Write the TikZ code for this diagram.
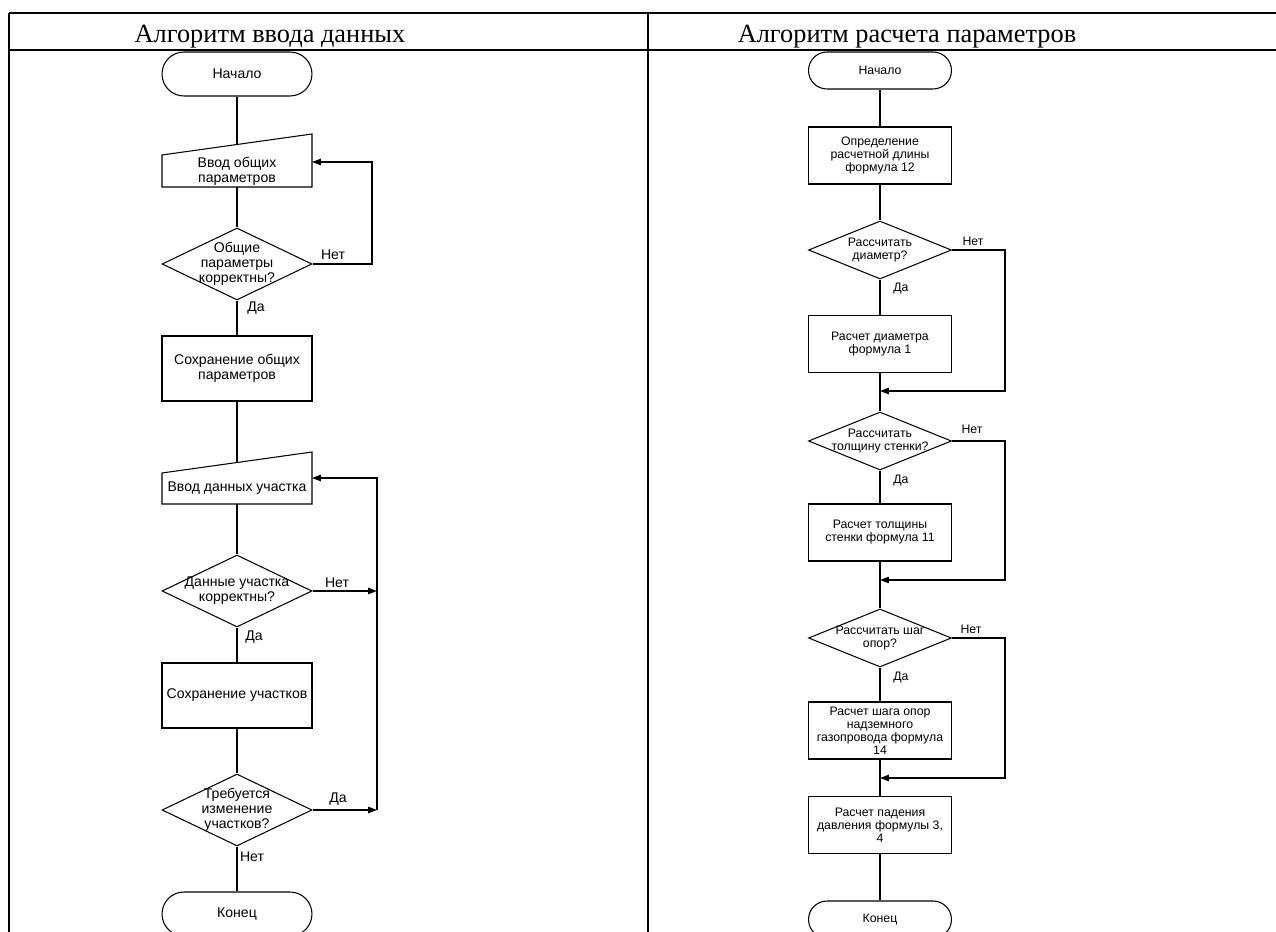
\documentclass[tikz,border=0pt]{standalone}
\usepackage{fontspec}
\setmainfont{Liberation Sans}
\newfontfamily\hdrfont{Liberation Serif}
\usetikzlibrary{shapes.geometric,shapes.misc,arrows.meta}
\begin{document}
\begin{tikzpicture}[x=0.02cm,y=-0.02cm,
  line width=0.6pt,
  ltxt/.style={font=\fontsize{8}{8.5}\selectfont, align=center, inner sep=0pt},
  rtxt/.style={font=\fontsize{7}{7.4}\selectfont, align=center, inner sep=0pt},
  lterm/.style={draw, rounded rectangle, minimum width=3cm, minimum height=0.88cm, ltxt},
  rterm/.style={draw, rounded rectangle, minimum width=2.86cm, minimum height=0.74cm, rtxt},
  lbox/.style={draw, rectangle, minimum width=3cm, minimum height=1.3cm, ltxt},
  rbox/.style={draw, rectangle, minimum width=2.86cm, minimum height=1.14cm, rtxt},
  ldec/.style={draw, diamond, minimum width=3cm, minimum height=1.44cm, inner sep=0pt},
  rdec/.style={draw, diamond, minimum width=2.86cm, minimum height=1.16cm, inner sep=0pt},
  arr/.style={-{Triangle[length=5pt,width=3.6pt]}},
  tbl/.style={line width=1.4pt},
  hdr/.style={font=\hdrfont\fontsize{15}{18}\selectfont, anchor=base, inner sep=0pt}
]
\useasboundingbox (0,0) rectangle (1276,932);

% table
\draw[tbl] (9,13) -- (1290,13);
\draw[tbl] (9,50) -- (1290,50);
\draw[tbl] (9,13) -- (9,945);
\draw[tbl] (648,13) -- (648,945);
\node[hdr] (h1) at (270,43) {Алгоритм ввода данных};
\node[hdr] (h2) at (907,43) {Алгоритм расчета параметров};

% ---------- left flowchart ----------
\node[lterm] (ls) at (237,74) {Начало};
\draw (162,187) -- (312,187) -- (312,134) -- (162,155) -- cycle;
\node[ltxt] (in1) at (237,171.5) {Ввод общих\\параметров};
\coordinate (in1top) at (237,144.5);
\coordinate (in1bot) at (237,187);
\coordinate (in1r) at (312,162);
\node[ldec, label={[ltxt]center:Общие\\параметры\\корректны?}] (ld1) at (237,264) {};
\node[lbox] (lb1) at (237,368.5) {Сохранение общих\\параметров};
\draw (162,504) -- (312,504) -- (312,452) -- (162,473) -- cycle;
\node[ltxt] (in2) at (237,488) {Ввод данных участка};
\coordinate (in2top) at (237,462.5);
\coordinate (in2bot) at (237,504);
\coordinate (in2r) at (312,478);
\node[ldec, label={[ltxt]center:Данные участка\\корректны?}] (ld2) at (237,591) {};
\node[lbox] (lb2) at (237,695.5) {Сохранение участков};
\node[ldec, label={[ltxt]center:Требуется\\изменение\\участков?}] (ld3) at (237,810) {};
\node[lterm] (le) at (237,914) {Конец};

\draw (ls.south) -- (in1top);
\draw (in1bot) -- (ld1.north);
\draw (ld1.south) -- (lb1.north);
\draw (lb1.south) -- (in2top);
\draw (in2bot) -- (ld2.north);
\draw (ld2.south) -- (lb2.north);
\draw (lb2.south) -- (ld3.north);
\draw (ld3.south) -- (le.north);

\coordinate (lr1a) at (372,264);
\coordinate (lr1b) at (372,162);
\draw[arr] (ld1.east) -- (lr1a) -- (lr1b) -- (in1r);
\coordinate (lv2) at (377,591);
\coordinate (lv3) at (377,810);
\coordinate (lvt) at (377,478);
\draw[arr] (ld2.east) -- (lv2);
\draw[arr] (ld3.east) -- (lv3);
\draw[arr] (lv3) -- (lvt) -- (in2r);

\node[ltxt] (ln1) at (333,255) {Нет};
\node[ltxt] (ly1) at (256,308) {Да};
\node[ltxt] (ln2) at (337,583) {Нет};
\node[ltxt] (ly2) at (254,637) {Да};
\node[ltxt] (ly3) at (338,799) {Да};
\node[ltxt] (ln3) at (252,857) {Нет};

% ---------- right flowchart ----------
\node[rterm] (rs) at (880,70.5) {Начало};
\node[rbox] (rb1) at (880,155.5) {Определение\\расчетной длины\\формула 12};
\node[rdec, label={[rtxt]center:Рассчитать\\диаметр?}] (rd1) at (880,250) {};
\node[rbox] (rb2) at (880,344) {Расчет диаметра\\формула 1};
\node[rdec, label={[rtxt]center:Рассчитать\\толщину стенки?}] (rd2) at (880,441) {};
\node[rbox] (rb3) at (880,532.5) {Расчет толщины\\стенки формула 11};
\node[rdec, label={[rtxt]center:Рассчитать шаг\\опор?}] (rd3) at (880,638) {};
\node[rbox] (rb4) at (880,730.5) {Расчет шага опор\\надземного\\газопровода формула\\14};
\node[rbox] (rb5) at (880,825) {Расчет падения\\давления формулы 3,\\4};
\node[rterm] (re) at (880,919.5) {Конец};

\draw (rs.south) -- (rb1.north);
\draw (rb1.south) -- (rd1.north);
\draw (rd1.south) -- (rb2.north);
\draw (rb2.south) -- (rd2.north);
\draw (rd2.south) -- (rb3.north);
\draw (rb3.south) -- (rd3.north);
\draw (rd3.south) -- (rb4.north);
\draw (rb4.south) -- (rb5.north);
\draw (rb5.south) -- (re.north);

\coordinate (rc1a) at (1005,250);
\coordinate (rc1b) at (1005,391);
\coordinate (m1) at (880,391);
\draw[arr] (rd1.east) -- (rc1a) -- (rc1b) -- (m1);
\coordinate (rc2a) at (1005,441);
\coordinate (rc2b) at (1005,580);
\coordinate (m2) at (880,580);
\draw[arr] (rd2.east) -- (rc2a) -- (rc2b) -- (m2);
\coordinate (rc3a) at (1005,638);
\coordinate (rc3b) at (1005,778);
\coordinate (m3) at (880,778);
\draw[arr] (rd3.east) -- (rc3a) -- (rc3b) -- (m3);

\node[rtxt] (rn1) at (973,241) {Нет};
\node[rtxt] (ry1) at (901,288) {Да};
\node[rtxt] (rn2) at (972,429) {Нет};
\node[rtxt] (ry2) at (901,480) {Да};
\node[rtxt] (rn3) at (971,629) {Нет};
\node[rtxt] (ry3) at (901,677) {Да};
\end{tikzpicture}
\end{document}
